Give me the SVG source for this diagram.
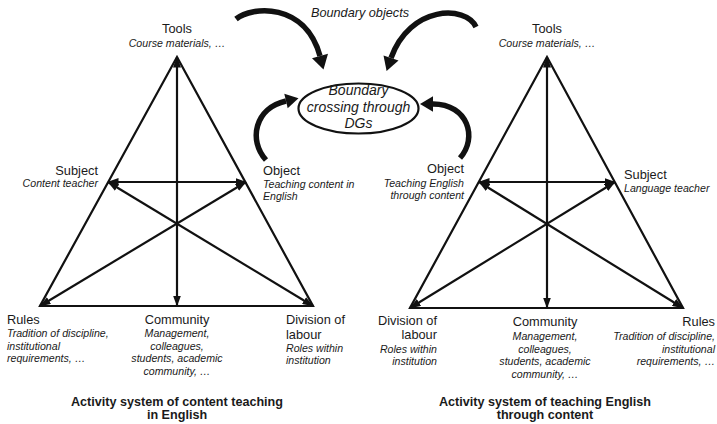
<svg xmlns="http://www.w3.org/2000/svg" width="717" height="424" viewBox="0 0 717 424">
<style>
text{font-family:"Liberation Sans",Arial,sans-serif;fill:#1a1a1a}
.h{font-size:12.8px}
.i{font-size:10.6px;font-style:italic}
.t{font-size:12.6px;font-weight:bold}
.m{text-anchor:middle}
.e{text-anchor:end}
.ln{stroke:#111;stroke-width:2.2;fill:none}
.cv{stroke:#111;stroke-width:5.5;fill:none;stroke-linecap:butt}
.hd{fill:#111}
</style>
<defs>
<marker id="ah" viewBox="0 0 11 8" refX="10.5" refY="4" markerWidth="11" markerHeight="8" markerUnits="userSpaceOnUse" orient="auto-start-reverse">
<path d="M0,0 L11,4 L0,8 z" fill="#111"/>
</marker>
</defs>

<g id="connectors">
<g id="left-system-lines">
<polygon class="ln" points="177,57 40,306 313,306"/>
<line class="ln" x1="177" y1="57" x2="177" y2="306" marker-start="url(#ah)" marker-end="url(#ah)"/>
<line class="ln" x1="108" y1="182" x2="246" y2="182" marker-start="url(#ah)" marker-end="url(#ah)"/>
<line class="ln" x1="40" y1="306" x2="246" y2="182" marker-start="url(#ah)" marker-end="url(#ah)"/>
<line class="ln" x1="313" y1="306" x2="108" y2="182" marker-start="url(#ah)" marker-end="url(#ah)"/>
</g>
<g id="right-system-lines">
<polygon class="ln" points="547,57 410,308 683,308"/>
<line class="ln" x1="547" y1="57" x2="547" y2="308" marker-start="url(#ah)" marker-end="url(#ah)"/>
<line class="ln" x1="479" y1="182" x2="615" y2="182" marker-start="url(#ah)" marker-end="url(#ah)"/>
<line class="ln" x1="410" y1="308" x2="615" y2="182" marker-start="url(#ah)" marker-end="url(#ah)"/>
<line class="ln" x1="683" y1="308" x2="479" y2="182" marker-start="url(#ah)" marker-end="url(#ah)"/>
</g>
<g id="curved-arrows">
<path class="cv" d="M236,19 C252,6 305,2 320,56"/>
<polygon class="hd" points="328,53.8 312,58.2 323.5,69.5"/>
<path class="cv" d="M476,27 C466,5 410,5 391,58"/>
<polygon class="hd" points="398.5,60.6 383.5,55.4 386.6,71"/>
<path class="cv" d="M266,160 C248,140 255,108 286,101"/>
<polygon class="hd" points="287.7,108.3 284.3,93.7 298.5,98.3"/>
<path class="cv" d="M460,158 C478,138 468,104 433,104"/>
<polygon class="hd" points="433,96.3 433,111.7 420,104"/>
</g>
</g>

<g id="boundary-objects">
<text class="h m" x="360" y="17" style="font-style:italic;font-size:12.7px">Boundary objects</text>
</g>
<g id="boundary-crossing">
<ellipse cx="358.5" cy="108.5" rx="60" ry="25" fill="#fff" stroke="#111" stroke-width="2.2"/>
<text class="m" x="358.5" y="95" style="font-style:italic;font-size:14px">Boundary</text>
<text class="m" x="358.5" y="112" style="font-style:italic;font-size:14px">crossing through</text>
<text class="m" x="358.5" y="128" style="font-style:italic;font-size:14px">DGs</text>
</g>

<g id="left-tools">
<text class="h m" x="177" y="33">Tools</text>
<text class="i m" x="177" y="47">Course materials, …</text>
</g>
<g id="left-subject">
<text class="h e" x="98" y="175">Subject</text>
<text class="i e" x="98" y="187">Content teacher</text>
</g>
<g id="left-object">
<text class="h" x="263" y="175">Object</text>
<text class="i" x="263" y="188">Teaching content in</text>
<text class="i" x="263" y="200">English</text>
</g>
<g id="left-rules">
<text class="h" x="7" y="324">Rules</text>
<text class="i" x="7" y="337">Tradition of discipline,</text>
<text class="i" x="7" y="349.5">institutional</text>
<text class="i" x="7" y="362">requirements, …</text>
</g>
<g id="left-community">
<text class="h m" x="177" y="324">Community</text>
<text class="i m" x="177" y="337">Management,</text>
<text class="i m" x="177" y="349.5">colleagues,</text>
<text class="i m" x="177" y="362">students, academic</text>
<text class="i m" x="177" y="374.5">community, …</text>
</g>
<g id="left-division">
<text class="h" x="286" y="324">Division of</text>
<text class="h" x="286" y="338.5">labour</text>
<text class="i" x="286" y="352">Roles within</text>
<text class="i" x="286" y="364">institution</text>
</g>
<g id="left-title">
<text class="t m" x="177" y="405.5">Activity system of content teaching</text>
<text class="t m" x="177" y="419">in English</text>
</g>

<g id="right-tools">
<text class="h m" x="547" y="33">Tools</text>
<text class="i m" x="547" y="47">Course materials, …</text>
</g>
<g id="right-object">
<text class="h e" x="464" y="173">Object</text>
<text class="i e" x="464" y="187">Teaching English</text>
<text class="i e" x="464" y="198.5">through content</text>
</g>
<g id="right-subject">
<text class="h" x="624" y="179">Subject</text>
<text class="i" x="624" y="192">Language teacher</text>
</g>
<g id="right-division">
<text class="h e" x="437" y="325">Division of</text>
<text class="h e" x="437" y="339">labour</text>
<text class="i e" x="437" y="352.5">Roles within</text>
<text class="i e" x="437" y="364.5">institution</text>
</g>
<g id="right-community">
<text class="h m" x="545" y="325.5">Community</text>
<text class="i m" x="545" y="340">Management,</text>
<text class="i m" x="545" y="352.5">colleagues,</text>
<text class="i m" x="545" y="365">students, academic</text>
<text class="i m" x="545" y="377.5">community, …</text>
</g>
<g id="right-rules">
<text class="h e" x="715" y="325.5">Rules</text>
<text class="i e" x="715" y="340">Tradition of discipline,</text>
<text class="i e" x="715" y="352.5">institutional</text>
<text class="i e" x="715" y="365">requirements, …</text>
</g>
<g id="right-title">
<text class="t m" x="545" y="405.5">Activity system of teaching English</text>
<text class="t m" x="545" y="419">through content</text>
</g>
</svg>
